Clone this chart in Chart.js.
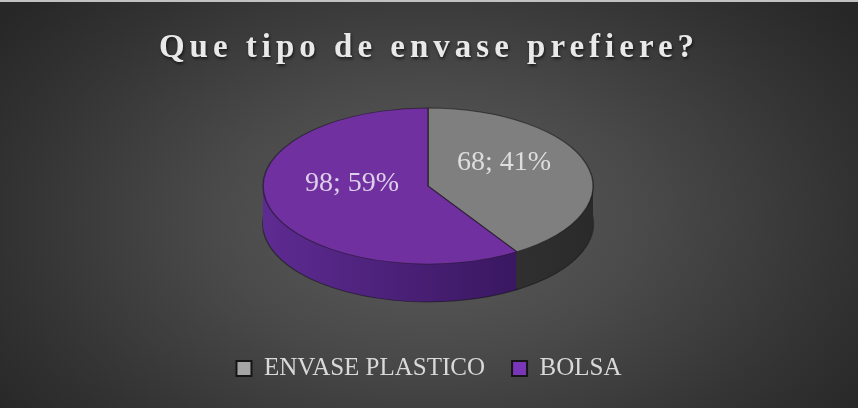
<!DOCTYPE html>
<html>
<head>
<meta charset="utf-8">
<script src="https://cdn.jsdelivr.net/npm/chart.js@4"></script>
<style>
  html, body { margin: 0; padding: 0; background: #262626; }
  #wrap {
    position: relative; width: 858px; height: 408px;
    background: radial-gradient(ellipse 62% 82% at 50% 54%, #5d5d5d 0%, #4a4a4a 40%, #333333 78%, #272727 100%);
  }
  #wrap:before {
    content: ""; position: absolute; left: 0; top: 0; width: 100%; height: 2px; background: #c2c2c2;
  }
  canvas { display: block; position: relative; }
</style>
</head>
<body>
<div id="wrap"><canvas id="chart" width="858" height="408"></canvas></div>
<script>
// data
const categories = ["ENVASE PLASTICO", "BOLSA"];
const counts = [68, 98];
const percents = [41, 59];

// colours
const topColors = ["#7f7f7f", "#7030a0"];
const legendColors = ["#a5a5a5", "#7a36b8"];
const sideColors = [
  ["#434343", "#363636", "#2a2a2a"],
  ["#5e2b92", "#461e72", "#2f1152"]
];
const labelColors = ["#dedede", "#ddd0ea"];

// where the squashed pie sits on the page
const PIE_CX = 428;
const PIE_CY = 186;
const PIE_RX = 165;
const PIE_RY = 78;
const PIE_DEPTH = 38;
const LABEL_F = 0.48;
const LABEL_DY = -13;

function sideFill(ctx, arc, i) {
  const r = arc.outerRadius;
  const g = ctx.createLinearGradient(arc.x - r, 0, arc.x + r, 0);
  g.addColorStop(0, sideColors[i][0]);
  g.addColorStop(0.5, sideColors[i][1]);
  g.addColorStop(1, sideColors[i][2]);
  return g;
}

function toPie(ctx, arc, dy) {
  const r = arc.outerRadius;
  ctx.translate(PIE_CX, PIE_CY + dy);
  ctx.scale(PIE_RX / r, PIE_RY / r);
  ctx.translate(-arc.x, -arc.y);
}

const pie3d = {
  id: "pie3d",
  beforeDraw(chart) {
    // title gets letter spacing and a soft shadow
    const t = chart.titleBlock;
    if (t && !t._spaced) {
      const orig = t.draw;
      t.draw = function () {
        const ctx = chart.ctx;
        ctx.save();
        ctx.letterSpacing = "5px";
        ctx.shadowColor = "rgba(0,0,0,0.6)";
        ctx.shadowOffsetX = 1;
        ctx.shadowOffsetY = 2;
        ctx.shadowBlur = 3;
        orig.call(this);
        ctx.restore();
      };
      t._spaced = true;
    }
  },
  beforeDatasetsDraw(chart) {
    const ctx = chart.ctx;
    const arcs = chart.getDatasetMeta(0).data;
    // side walls, stacked from the bottom up
    for (let k = PIE_DEPTH; k > 0; k--) {
      ctx.save();
      toPie(ctx, arcs[0], k);
      arcs.forEach((arc, i) => {
        const saved = arc.options;
        arc.options = Object.assign({}, saved, {
          backgroundColor: sideFill(ctx, arc, i),
          borderWidth: k === PIE_DEPTH ? 1.5 : 0
        });
        arc.draw(ctx);
        arc.options = saved;
      });
      ctx.restore();
    }
    ctx.save();
    toPie(ctx, arcs[0], 0);
  },
  afterDatasetsDraw(chart) {
    const ctx = chart.ctx;
    ctx.restore();
    const arcs = chart.getDatasetMeta(0).data;
    ctx.save();
    ctx.font = "28px 'Liberation Serif', serif";
    ctx.textAlign = "center";
    ctx.textBaseline = "middle";
    arcs.forEach((arc, i) => {
      const mid = (arc.startAngle + arc.endAngle) / 2;
      const x = PIE_CX + PIE_RX * LABEL_F * Math.cos(mid);
      const y = PIE_CY + PIE_RY * LABEL_F * Math.sin(mid) + LABEL_DY;
      ctx.fillStyle = labelColors[i];
      ctx.fillText(counts[i] + "; " + percents[i] + "%", x, y);
    });
    ctx.restore();
  }
};

const ctx = document.getElementById("chart").getContext("2d");
new Chart(ctx, {
  type: "pie",
  data: {
    labels: categories,
    datasets: [{
      data: counts,
      backgroundColor: topColors,
      borderColor: "rgba(20,20,20,0.55)",
      borderWidth: 1.2
    }]
  },
  options: {
    responsive: false,
    animation: false,
    layout: { padding: { top: 0, bottom: 17 } },
    plugins: {
      title: {
        display: true,
        text: "Que tipo de envase prefiere?",
        color: "#e9e9e9",
        font: { family: "'Liberation Serif', serif", size: 33, weight: "bold" },
        padding: { top: 29, bottom: 10 }
      },
      legend: {
        display: true,
        position: "bottom",
        labels: {
          color: "#d9d9d9",
          font: { family: "'Liberation Serif', serif", size: 25 },
          boxWidth: 15,
          boxHeight: 15,
          padding: 27,
          generateLabels: function (chart) {
            return categories.map((c, i) => ({
              text: c,
              fillStyle: legendColors[i],
              strokeStyle: "#151515",
              lineWidth: 2,
              fontColor: "#d9d9d9",
              index: i
            }));
          }
        }
      },
      tooltip: { enabled: false }
    }
  },
  plugins: [pie3d]
});
</script>
</body>
</html>
